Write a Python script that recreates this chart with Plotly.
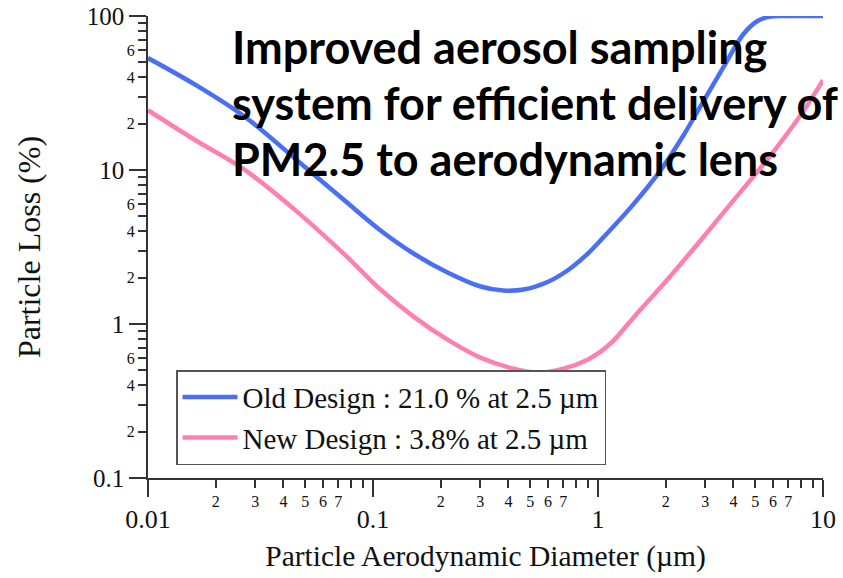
import plotly.graph_objects as go

# ---- data ----
diam_old = [0.01, 0.01626, 0.0271, 0.0476, 0.0755, 0.108, 0.1514, 0.2144, 0.3005, 0.380, 0.467,
            0.5966, 0.7317, 0.8982, 1.026, 1.423, 1.896, 2.399, 2.943, 3.612, 4.432, 5.116,
            5.843, 6.813, 10.0]
loss_old = [53.3, 35.7, 22.0, 11.06, 6.26, 4.05, 2.87, 2.16, 1.751, 1.649, 1.674,
            1.874, 2.226, 2.854, 3.488, 5.893, 9.95, 16.82, 27.99, 46.6, 76.4, 92.8,
            99.2, 100, 100]

diam_new = [0.01, 0.01626, 0.0271, 0.04527, 0.0755, 0.108, 0.1514, 0.2144, 0.3005, 0.4212, 0.5384,
            0.7026, 0.8982, 1.026, 1.172, 1.3526, 1.545, 2.036, 2.855, 4.002, 5.666, 7.943, 10.0]
loss_new = [24.45, 15.6, 9.95, 5.47, 2.786, 1.674, 1.117, 0.7916, 0.6046, 0.5128, 0.4829,
            0.5128, 0.5867, 0.661, 0.780, 0.991, 1.241, 1.945, 3.487, 6.354, 11.74, 22.69, 38.33]

name_old = "Old Design : 21.0 % at 2.5 µm"
name_new = "New Design : 3.8% at 2.5 µm"

x_major = [0.01, 0.1, 1, 10]
x_major_text = ["0.01", "0.1", "1", "10"]
y_major = [0.1, 1, 10, 100]
y_major_text = ["0.1", "1", "10", "100"]
x_minor_digits = [2, 3, 4, 5, 6, 7, 8, 9]
x_minor_labelled = [2, 3, 4, 5, 6, 7]
y_minor_digits = [2, 3, 4, 5, 6, 7, 8, 9]
y_minor_labelled = [2, 4, 6]

title_lines = ["Improved aerosol sampling",
               "system for efficient delivery of",
               "PM2.5 to aerodynamic lens"]

# ---- build minor tick lists ----
x_minor_vals, x_minor_text = [], []
for dec in [0.01, 0.1, 1]:
    for d in x_minor_digits:
        x_minor_vals.append(d * dec)
        x_minor_text.append(str(d) if d in x_minor_labelled else "")
y_minor_vals, y_minor_text = [], []
for dec in [0.1, 1, 10]:
    for d in y_minor_digits:
        y_minor_vals.append(d * dec)
        y_minor_text.append(str(d) if d in y_minor_labelled else "")

BLUE = "#4a6ff5"
PINK = "#ff80b0"
AX = "#333333"
SERIF = "Liberation Serif, Times New Roman, serif"

fig = go.Figure()
fig.add_trace(go.Scatter(x=diam_old, y=loss_old, mode="lines", name=name_old,
                         line=dict(color=BLUE, width=4.5, shape="spline", smoothing=1.0)))
fig.add_trace(go.Scatter(x=diam_new, y=loss_new, mode="lines", name=name_new,
                         line=dict(color=PINK, width=4.5, shape="spline", smoothing=1.0)))

axis_common = dict(type="log", showgrid=False, zeroline=False, ticks="outside",
                   tickcolor=AX, tickwidth=1.5, fixedrange=True, automargin=False,
                   ticklabeloverflow="allow")

fig.update_layout(
    width=843, height=578,
    margin=dict(l=148, r=20, t=16, b=100),
    paper_bgcolor="white", plot_bgcolor="white",
    font=dict(family=SERIF, color="#111"),
    xaxis=dict(**axis_common, range=[-2, 1], tickmode="array", tickvals=x_major,
               ticktext=x_major_text, ticklen=17, tickfont=dict(size=26, family=SERIF),
               ticklabelstandoff=0,
               showline=True, linecolor=AX, linewidth=1.5,
               title=dict(text="Particle Aerodynamic Diameter (µm)",
                          font=dict(size=29.5, family=SERIF), standoff=12)),
    yaxis=dict(**axis_common, range=[-1, 2], tickmode="array", tickvals=y_major,
               ticktext=y_major_text, ticklen=17, tickfont=dict(size=25, family=SERIF),
               showline=True, linecolor=AX, linewidth=1.5,
               title=dict(text="Particle Loss (%)", font=dict(size=32, family=SERIF), standoff=37)),
    xaxis2=dict(**axis_common, range=[-2, 1], overlaying="x", anchor="y", side="bottom",
                tickmode="array", tickvals=x_minor_vals, ticktext=x_minor_text, ticklen=9,
                tickfont=dict(size=16, family=SERIF), showline=False),
    yaxis2=dict(**axis_common, range=[-1, 2], overlaying="y", anchor="x", side="left",
                tickmode="array", tickvals=y_minor_vals, ticktext=y_minor_text, ticklen=9,
                tickfont=dict(size=16, family=SERIF), showline=False),
    legend=dict(x=0.0415, y=0.028, xanchor="left", yanchor="bottom",
                bgcolor="white", bordercolor="#555", borderwidth=1.5,
                font=dict(size=29, family=SERIF, color="#111"),
                itemwidth=55, tracegroupgap=0),
    showlegend=True,
)

# invisible helper trace so the overlay axes are drawn
fig.add_trace(go.Scatter(x=[diam_old[0]], y=[loss_old[0]], xaxis="x2", yaxis="y2",
                         mode="markers", marker=dict(opacity=0), showlegend=False,
                         hoverinfo="skip"))

ys = [0.932, 0.811, 0.690]
for txt, yy in zip(title_lines, ys):
    fig.add_annotation(text="<b>" + txt + "</b>", xref="paper", yref="paper",
                       x=0.1215, y=yy, xanchor="left", yanchor="middle", showarrow=False,
                       font=dict(family="Lato, Open Sans, sans-serif", size=45, color="black"))

# remove the browser's default 8px body margin so the figure fills the window exactly
fig.write_html("out.html", config={"displayModeBar": False},
               post_script="document.body.style.margin='0';document.body.style.overflow='hidden';")
